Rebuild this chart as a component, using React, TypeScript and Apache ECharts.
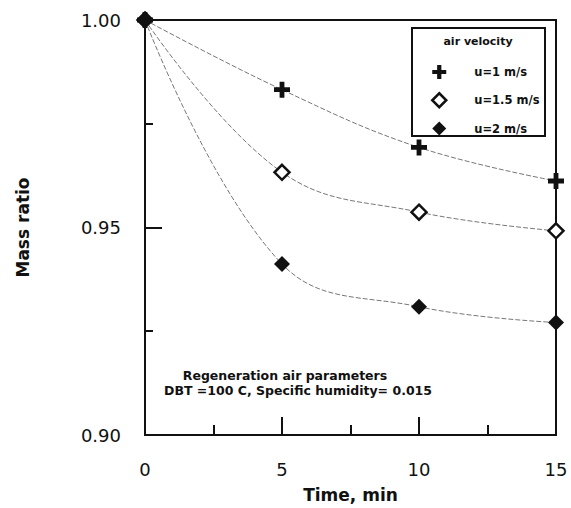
import React, { useEffect, useRef } from "react";
import * as echarts from "echarts";

const timeMin = [0, 5, 10, 15];
const u1 = [1.0, 0.9832, 0.9693, 0.9612];
const u15 = [1.0, 0.9633, 0.9537, 0.9492];
const u2 = [1.0, 0.9412, 0.9309, 0.9271];
const seriesNames = ["u=1 m/s", "u=1.5 m/s", "u=2 m/s"];
const legendTitle = "air velocity";
const noteLines = ["Regeneration air parameters", "DBT =100 C, Specific humidity= 0.015"];
const xTitle = "Time, min";
const yTitle = "Mass ratio";

const plusPath = "path://M3.5,0 H6.5 V3.5 H10 V6.5 H6.5 V10 H3.5 V6.5 H0 V3.5 H3.5 Z";

export default function App() {
  const ref = useRef<HTMLDivElement>(null);
  useEffect(() => {
    const chart = echarts.init(ref.current!, null, { renderer: "svg" });
    const font = "DejaVu Sans";
    const lineStyle = { color: "#777", width: 1, type: [5, 2] as any };
    const mk = (vals: number[]) => timeMin.map((t, i) => [t, vals[i]]);
    chart.setOption({
      animation: false,
      backgroundColor: "#fff",
      grid: { left: 145, right: 15, top: 20, bottom: 71, show: true, borderColor: "#111", borderWidth: 2, backgroundColor: "transparent" },
      xAxis: {
        type: "value", min: 0, max: 15, interval: 5,
        name: xTitle, nameLocation: "middle", nameGap: 51,
        nameTextStyle: { fontFamily: font, fontSize: 17, fontWeight: "bold", color: "#111" },
        axisLine: { lineStyle: { color: "#111", width: 2 } },
        axisTick: { inside: true, length: 18, lineStyle: { color: "#111", width: 2 } },
        minorTick: { show: true, splitNumber: 2, length: 10, lineStyle: { color: "#111", width: 2 } },
        axisLabel: { fontFamily: font, fontSize: 18, color: "#111", margin: 25 },
        splitLine: { show: false },
      },
      yAxis: {
        type: "value", min: 0.9, max: 1.0, interval: 0.05,
        name: yTitle, nameLocation: "middle", nameGap: 114, nameRotate: 90,
        nameTextStyle: { fontFamily: font, fontSize: 17, fontWeight: "bold", color: "#111" },
        axisLine: { lineStyle: { color: "#111", width: 2 } },
        axisTick: { inside: true, length: 17, lineStyle: { color: "#111", width: 2 } },
        minorTick: { show: true, splitNumber: 2, length: 8, lineStyle: { color: "#111", width: 2 } },
        axisLabel: { fontFamily: font, fontSize: 18, color: "#111", margin: 24, formatter: (v: number) => v.toFixed(2) },
        splitLine: { show: false },
      },
      legend: {
        orient: "vertical", left: 431, top: 65, padding: 0, itemWidth: 14, itemHeight: 14, itemGap: 13,
        textStyle: { fontFamily: font, fontSize: 11.5, fontWeight: "bold", color: "#111", padding: [0, 0, 0, 23] },
        data: [
          { name: seriesNames[0], icon: plusPath, itemStyle: { color: "#111" } },
          { name: seriesNames[1], icon: "diamond", itemStyle: { color: "#fff", borderColor: "#111", borderWidth: 2.5 } },
          { name: seriesNames[2], icon: "diamond", itemStyle: { color: "#111" } },
        ],
      },
      graphic: [
        { type: "rect", shape: { x: 412, y: 28, width: 133, height: 108 }, style: { fill: "#fff", stroke: "#111", lineWidth: 2 }, z: 0 },
        { type: "text", x: 478, y: 41, style: { text: legendTitle, font: `bold 11px "${font}"`, fill: "#111", textAlign: "center", textVerticalAlign: "middle" }, z: 1 },
        { type: "text", x: 285, y: 375, style: { text: noteLines[0], font: `bold 12.5px "${font}"`, fill: "#111", textAlign: "center", textVerticalAlign: "middle" } },
        { type: "text", x: 298, y: 390, style: { text: noteLines[1], font: `bold 12.5px "${font}"`, fill: "#111", textAlign: "center", textVerticalAlign: "middle" } },
      ],
      series: [
        { name: seriesNames[0], type: "line", data: mk(u1), smooth: 0.4, symbol: plusPath, symbolSize: 16, lineStyle, itemStyle: { color: "#111" }, z: 3 },
        { name: seriesNames[1], type: "line", data: mk(u15), smooth: 0.4, symbol: "diamond", symbolSize: 15, lineStyle, itemStyle: { color: "#fff", borderColor: "#111", borderWidth: 2.5 }, z: 4 },
        { name: seriesNames[2], type: "line", data: mk(u2), smooth: 0.4, symbol: "diamond", symbolSize: 16, lineStyle, itemStyle: { color: "#111" }, z: 5 },
      ],
    });
    return () => chart.dispose();
  }, []);
  return <div ref={ref} style={{ width: 571, height: 508, position: "absolute", left: 0, top: 0 }} />;
}
